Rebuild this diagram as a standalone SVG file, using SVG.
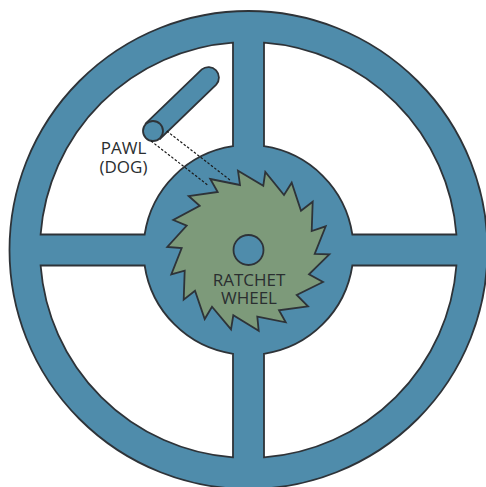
<svg xmlns="http://www.w3.org/2000/svg" width="486" height="487" viewBox="0 0 486 487">
<style>
.o{stroke:#2e3338;stroke-width:1.8;stroke-linejoin:miter}
.b{fill:#4f8cab}
.w{fill:#fff}
.d{fill:none;stroke:#1a1a1a;stroke-width:1.2;stroke-dasharray:2.5 1.8}
text{font-family:"Open Sans","Noto Sans",sans-serif;font-size:17px;fill:#2a2e30;text-anchor:middle}
</style>
<rect width="486" height="487" fill="#fff"/>
<g id="wheel-frame">
<circle class="b o" cx="248.5" cy="250" r="239"/>
<path class="w o" d="M264,42.6A208.5,208.5 0 0 1 456.4,234.5L352.35,234.5A105,105 0 0 0 264,146.2Z"/>
<path class="w o" d="M233,42.6A208.5,208.5 0 0 0 40.6,234.5L144.65,234.5A105,105 0 0 1 233,146.2Z"/>
<path class="w o" d="M264,457.4A208.5,208.5 0 0 0 456.4,265.5L352.35,265.5A105,105 0 0 1 264,353.8Z"/>
<path class="w o" d="M233,457.4A208.5,208.5 0 0 1 40.6,265.5L144.65,265.5A105,105 0 0 0 233,353.8Z"/>
</g>
<g id="ratchet-wheel">
<polygon class="o" fill="#7d9a7a" points="210.3,179 240,185 238,170.7 263.3,185.7 265.3,172 284,195 291.7,182.7 301,210.7 312.7,201.7 311.7,231 325.7,226.3 314.7,254 329.3,254.3 309,274.3 323,282 296.7,295 308,306.3 279,310.3 285.7,322.3 257.3,316.7 258.7,330.7 233.3,315.3 231,329.3 212,306.7 204.7,319 195,290.7 183.7,299.7 184.7,270.7 171.3,274.3 181.7,248 167.3,247 186.7,225.7 173.3,220 199.7,205.7 188.7,196 217.7,192"/>
<circle class="b o" cx="248.5" cy="250" r="15"/>
<text x="249" y="286">RATCHET</text>
<text x="249" y="304">WHEEL</text>
</g>
<g id="pawl">
<path class="b o" d="M145.8,123.4L201.8,69.4A10.5,10.5 0 0 1 216.2,84.6L160.2,138.6Z"/>
<circle class="b o" cx="153" cy="131" r="10"/>
<text x="123.5" y="154">PAWL</text>
<text x="123.5" y="173">(DOG)</text>
</g>
<g id="connectors">
<path class="d" d="M151,141L208,185.3M166.7,131L230,180"/>
</g>
</svg>
